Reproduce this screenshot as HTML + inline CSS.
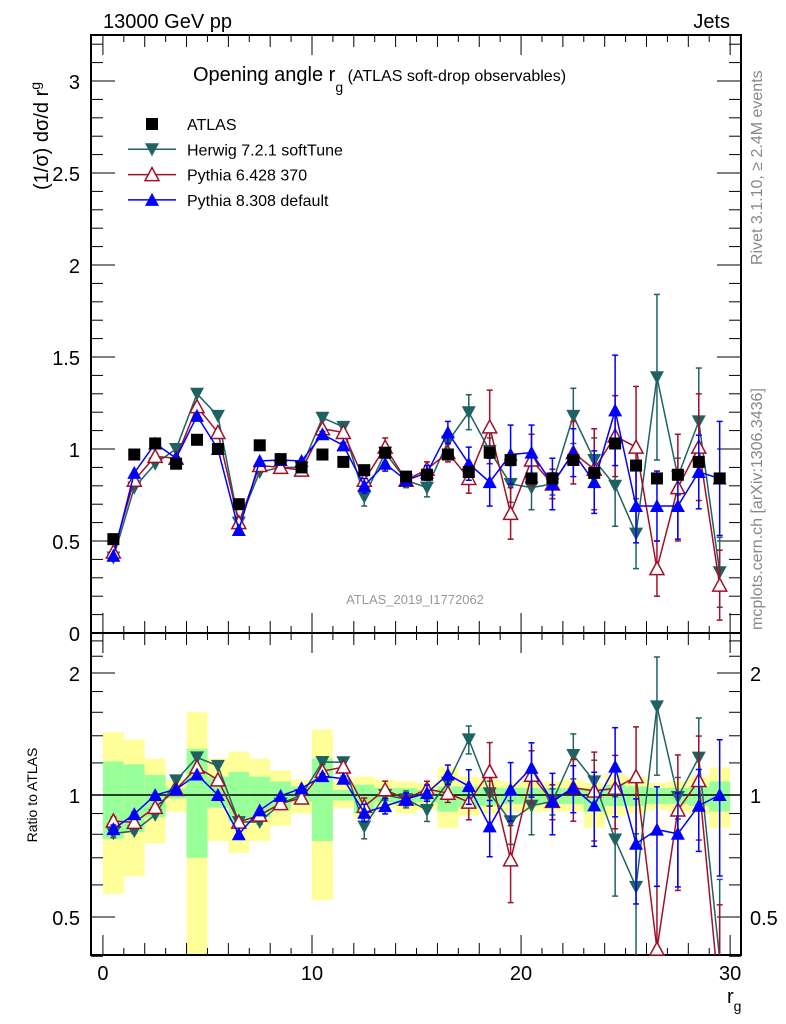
<!DOCTYPE html>
<html><head><meta charset="utf-8">
<style>
html,body{margin:0;padding:0;background:#fff;}
svg{display:block;font-family:"Liberation Sans",sans-serif;}
</style></head>
<body>
<svg id="chart" width="786" height="1024" viewBox="0 0 786 1024" xmlns="http://www.w3.org/2000/svg">
<g id="bands"></g>
<g id="grid"></g>
<g id="series"></g>
<text x="103" y="28" font-size="20">13000 GeV pp</text>
<text x="730" y="28" font-size="20" text-anchor="end">Jets</text>
<text x="193" y="81" font-size="20">Opening angle r<tspan font-size="14" dy="11">g</tspan><tspan font-size="16" dy="-11"> (ATLAS soft-drop observables)</tspan></text>
<text transform="translate(48,190) rotate(-90)" font-size="20">(1/σ) dσ/d r<tspan font-size="14" dy="-8">g</tspan></text>
<text transform="translate(37,795) rotate(-90)" font-size="14" text-anchor="middle">Ratio to ATLAS</text>
<text transform="translate(762,265) rotate(-90)" font-size="16" fill="#888">Rivet 3.1.10, ≥ 2.4M events</text>
<text transform="translate(762,630) rotate(-90)" font-size="16" fill="#888">mcplots.cern.ch [arXiv:1306.3436]</text>
<text x="415" y="604" font-size="13" fill="#999" text-anchor="middle">ATLAS_2019_I1772062</text>
<text x="727" y="1003" font-size="20">r<tspan font-size="14" dy="8">g</tspan></text>
<g id="legend"></g>
</svg>
<script>
const bins=[0.5,1.5,2.5,3.5,4.5,5.5,6.5,7.5,8.5,9.5,10.5,11.5,12.5,13.5,14.5,15.5,16.5,17.5,18.5,19.5,20.5,21.5,22.5,23.5,24.5,25.5,26.5,27.5,28.5,29.5];
const atlas=[0.51,0.97,1.03,0.92,1.05,1.00,0.70,1.02,0.945,0.90,0.97,0.93,0.885,0.98,0.85,0.86,0.97,0.875,0.98,0.94,0.84,0.84,0.94,0.87,1.03,0.91,0.84,0.86,0.93,0.84];
const herwig=[0.41,0.79,0.92,1.00,1.30,1.18,0.60,0.875,0.90,0.90,1.17,1.12,0.74,0.98,0.83,0.79,1.04,1.20,0.99,0.81,0.79,0.81,1.18,0.94,0.80,0.54,1.39,0.85,1.15,0.33];
const herwigErr=[0.01,0.01,0.01,0.01,0.01,0.01,0.01,0.01,0.01,0.01,0.015,0.015,0.05,0.03,0.04,0.05,0.05,0.095,0.07,0.1,0.12,0.06,0.15,0.12,0.22,0.19,0.45,0.1,0.29,0.19];
const py6=[0.44,0.83,0.96,0.95,1.23,1.09,0.60,0.91,0.90,0.885,1.11,1.09,0.83,1.01,0.83,0.89,0.98,0.84,1.12,0.65,0.94,0.81,0.98,0.89,1.07,1.01,0.35,0.79,1.01,0.26];
const py6Err=[0.01,0.01,0.01,0.01,0.01,0.01,0.01,0.01,0.01,0.01,0.015,0.015,0.04,0.05,0.03,0.04,0.05,0.08,0.2,0.14,0.14,0.08,0.17,0.22,0.22,0.33,0.15,0.29,0.29,0.19];
const py8=[0.42,0.87,1.03,0.95,1.18,1.00,0.56,0.935,0.94,0.935,1.08,1.02,0.80,0.92,0.83,0.87,1.09,0.92,0.82,0.97,0.98,0.81,0.98,0.82,1.21,0.69,0.69,0.69,0.875,0.84];
const py8Err=[0.01,0.01,0.01,0.01,0.01,0.01,0.01,0.01,0.01,0.01,0.015,0.015,0.04,0.04,0.03,0.04,0.06,0.09,0.13,0.16,0.15,0.14,0.13,0.17,0.3,0.2,0.19,0.18,0.2,0.31];
const yellowHi=[1.43,1.37,1.23,1.09,1.6,1.23,1.28,1.23,1.15,1.09,1.45,1.08,1.11,1.09,1.08,1.07,1.17,1.11,1.09,1.08,1.08,1.08,1.09,1.07,1.13,1.11,1.07,1.08,1.11,1.17];
const yellowLo=[0.57,0.63,0.76,0.91,0.3,0.77,0.72,0.77,0.84,0.90,0.55,0.93,0.88,0.93,0.90,0.92,0.83,0.89,0.90,0.91,0.91,0.91,0.91,0.83,0.89,0.90,0.92,0.91,0.90,0.83];
const greenHi=[1.21,1.19,1.12,1.04,1.30,1.11,1.14,1.11,1.08,1.05,1.23,1.03,1.06,1.04,1.04,1.03,1.05,1.05,1.04,1.04,1.04,1.04,1.04,1.04,1.06,1.05,1.04,1.04,1.05,1.08];
const greenLo=[0.78,0.81,0.88,0.98,0.70,0.93,0.86,0.88,0.92,0.96,0.77,0.97,0.90,0.96,0.94,0.96,0.91,0.93,0.94,0.95,0.95,0.95,0.95,0.91,0.94,0.94,0.95,0.95,0.94,0.91];
const mainTicks=[0,0.5,1,1.5,2,2.5,3];
const ratioTicks=[0.5,1,2];
const xTicks=[0,10,20,30];

const NS="http://www.w3.org/2000/svg";
const L=91,R=741,T=35,MB=633,RB=955,XMIN=-0.57,XMAX=30.52;
const X=v=>L+(v-XMIN)/(XMAX-XMIN)*(R-L);
const YM=v=>MB-v*184;
const YR=v=>795-Math.log2(v)*122;
function mk(tag,attrs,parent){const e=document.createElementNS(NS,tag);for(const k in attrs)e.setAttribute(k,attrs[k]);parent.appendChild(e);return e;}
const gB=document.getElementById('bands'),gG=document.getElementById('grid'),gS=document.getElementById('series'),gL=document.getElementById('legend');
const clampR=v=>Math.max(633,Math.min(955,v));

bins.forEach((b,i)=>{
 let r=mk('rect',{x:X(b-0.5),y:clampR(YR(yellowHi[i])),width:X(b+0.5)-X(b-0.5),height:clampR(YR(yellowLo[i]))-clampR(YR(yellowHi[i])),fill:'#ffff99'},gB);
 
 
 let g=mk('rect',{x:X(b-0.5),y:clampR(YR(greenHi[i])),width:X(b+0.5)-X(b-0.5),height:clampR(YR(greenLo[i]))-clampR(YR(greenHi[i])),fill:'#99ff99'},gB);
 
 
});
mk('rect',{x:L,y:T,width:R-L,height:MB-T,fill:'none',stroke:'#000','stroke-width':2},gG);
mk('rect',{x:L,y:MB,width:R-L,height:RB-MB,fill:'none',stroke:'#000','stroke-width':2},gG);
mk('line',{x1:L,x2:R,y1:795,y2:795,stroke:'#000','stroke-width':1.5},gG);
for(let v=0;v<=3.21;v+=0.1){const y=YM(v);if(y<T)continue;const maj=Math.abs(v*2-Math.round(v*2))<0.01;const len=maj?24:12;
 mk('line',{x1:L,x2:L+len,y1:y,y2:y,stroke:'#000'},gG);mk('line',{x1:R-len,x2:R,y1:y,y2:y,stroke:'#000'},gG);}
mainTicks.forEach(v=>{const t=mk('text',{x:80,y:YM(v)+8,'font-size':20,'text-anchor':'end'},gG);t.textContent=String(v);
 
 });
[0.4,0.5,0.6,0.7,0.8,0.9,1,1.2,1.4,1.6,1.8,2,2.2,2.4].forEach(v=>{const y=YR(v);const maj=[0.5,1,2].includes(v);const len=maj?24:12;
 mk('line',{x1:L,x2:L+len,y1:y,y2:y,stroke:'#000'},gG);mk('line',{x1:R-len,x2:R,y1:y,y2:y,stroke:'#000'},gG);});
ratioTicks.forEach(v=>{const t=mk('text',{x:80,y:YR(v)+8,'font-size':20,'text-anchor':'end'},gG);t.textContent=String(v);
 
 
 const t2=mk('text',{x:750,y:YR(v)+8,'font-size':20},gG);t2.textContent=String(v);
 
 });
for(let v=0;v<=30;v++){const x=X(v);const len=v%10==0?20:(v%2==0?12:7);
 [MB,RB].forEach(yb=>{mk('line',{x1:x,x2:x,y1:yb,y2:yb-len,stroke:'#000'},gG);});
 mk('line',{x1:x,x2:x,y1:T,y2:T+len,stroke:'#000'},gG);
 mk('line',{x1:x,x2:x,y1:MB,y2:MB+len,stroke:'#000'},gG);}
xTicks.forEach(v=>{const t=mk('text',{x:X(v),y:980,'font-size':20,'text-anchor':'middle'},gG);t.textContent=String(v);
 
 });

function marker(kind,x,y,col,parent){
 if(kind==='sq')return mk('rect',{x:x-6,y:y-6,width:12,height:12,fill:'#000'},parent);
 if(kind==='down')return mk('polygon',{points:`${x-7},${y-6} ${x+7},${y-6} ${x},${y+7}`,fill:col},parent);
 if(kind==='upo')return mk('polygon',{points:`${x-7},${y+6} ${x+7},${y+6} ${x},${y-7}`,fill:'#fff',stroke:col,'stroke-width':1.5},parent);
 return mk('polygon',{points:`${x-7},${y+6} ${x+7},${y+6} ${x},${y-7}`,fill:col},parent);
}
function drawSeries(name,vals,errs,col,kind){
 const g=mk('g',{},gS);
 
 
 const pm=[],pr=[];
 bins.forEach((b,i)=>{const x=X(b);pm.push(x+','+YM(vals[i]));pr.push(x+','+YR(vals[i]/atlas[i]));});
 mk('polyline',{points:pm.join(' '),fill:'none',stroke:col,'stroke-width':1.5},g);
 const cp=mk('clipPath',{id:'c'+name},g);mk('rect',{x:L,y:MB,width:R-L,height:RB-MB},cp);
 mk('polyline',{points:pr.join(' '),fill:'none',stroke:col,'stroke-width':1.5,'clip-path':`url(#c${name})`},g);
 bins.forEach((b,i)=>{const x=X(b),e=errs[i],v=vals[i];
  [[YM(v+e),YM(v-e)],[YR((v+e)/atlas[i]),YR(Math.max(v-e,0.01)/atlas[i])]].forEach(([a,c],k)=>{
   const lo=k?Math.min(c,RB):c,hi=k?Math.max(a,MB):a;
   if(lo-hi>4){mk('line',{x1:x,x2:x,y1:hi,y2:lo,stroke:col,'stroke-width':1.5},g);
    mk('line',{x1:x-3,x2:x+3,y1:hi,y2:hi,stroke:col,'stroke-width':1.5},g);
    if(lo<RB)mk('line',{x1:x-3,x2:x+3,y1:lo,y2:lo,stroke:col,'stroke-width':1.5},g);}
  });
  const m=marker(kind,x,YM(v),col,g);
  
  
  const yr=YR(v/atlas[i]);
  if(yr<RB&&yr>MB){const m2=marker(kind,x,yr,col,g);
   
   }
 });
}
drawSeries('herwig',herwig,herwigErr,'#1f6262','down');
drawSeries('pythia6',py6,py6Err,'#a0102a','upo');
drawSeries('pythia8',py8,py8Err,'#0000ff','up');
bins.forEach((b,i)=>{const m=marker('sq',X(b),YM(atlas[i]),'#000',gS);
 
 });

const leg=[['ATLAS','sq','#000'],['Herwig 7.2.1 softTune','down','#1f6262'],['Pythia 6.428 370','upo','#a0102a'],['Pythia 8.308 default','up','#0000ff']];
leg.forEach((l,i)=>{const y=124+i*25.3;const g=mk('g',{},gL);
 
 
 if(l[1]!=='sq')mk('line',{x1:128,x2:176,y1:y,y2:y,stroke:l[2],'stroke-width':1.5},g);
 marker(l[1],152,y,l[2],g);
 const t=mk('text',{x:187,y:y+6,'font-size':16},g);t.textContent=l[0];});
</script>
</body></html>
